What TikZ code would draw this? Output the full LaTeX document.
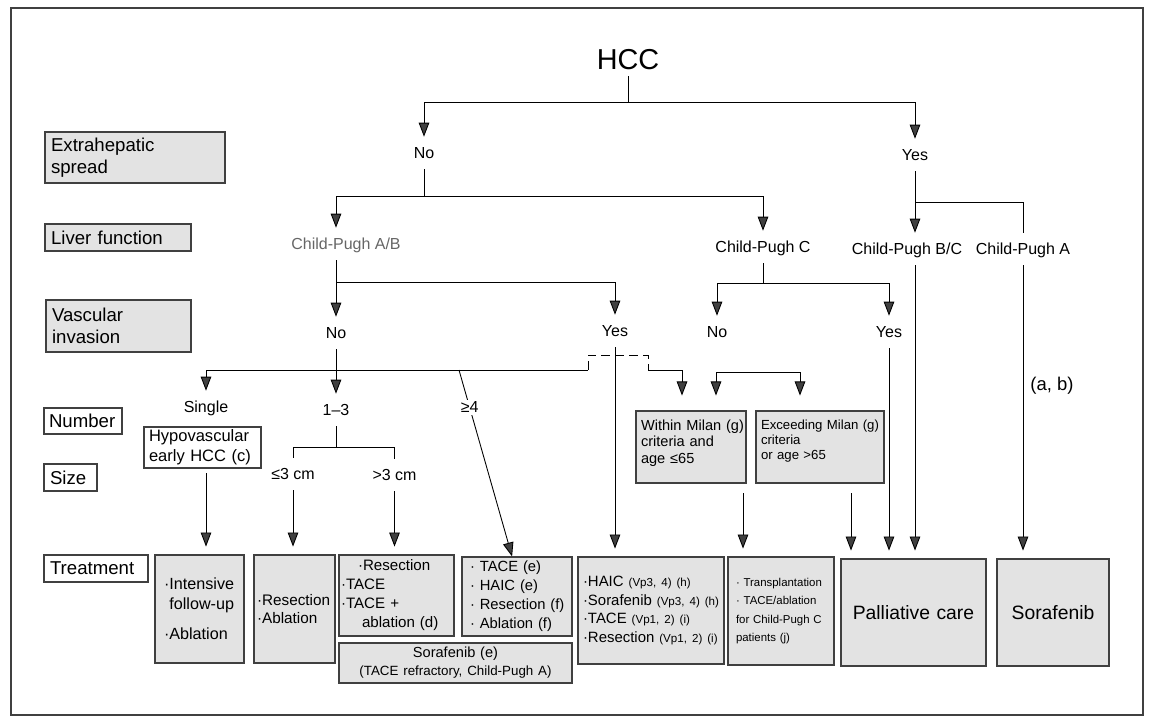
\documentclass[tikz,border=0pt]{standalone}
\usepackage{fontspec}
\setmainfont{Liberation Sans}
\usetikzlibrary{arrows.meta}
\newcommand{\fsz}[2]{\fontsize{#1}{#2}\selectfont}
\newcommand{\bul}{·}
\newcommand{\smref}{\fsz{6.6}{8}}
\hyphenpenalty=10000
\exhyphenpenalty=10000
\hbadness=10000
\hfuzz=20pt

\begin{document}
\begin{tikzpicture}[x=0.02cm,y=-0.02cm,line width=0.5pt,
  tnode/.style={font=\fsz{9.1}{11}, inner xsep=2pt, inner ysep=4.4pt, text height=1.5ex, text depth=.25ex},
  lbox/.style={draw=black!75, line width=0.6pt, fill=black!11, align=left, inner xsep=1.2mm, inner ysep=0pt, font=\fsz{10.6}{12.5}},
  wbox/.style={lbox, fill=white},
  gbox/.style={draw=black!75, line width=0.6pt, fill=black!11, align=left, inner xsep=1.2mm, inner ysep=0pt},
  arr/.style={-{Triangle[length=8pt,width=6pt,fill=black!75]}},
  barr/.style={arr, shorten >=4.5pt},
  marr/.style={arr, shorten >=8.5pt}]
    \useasboundingbox (0,0) rectangle (1150,717);
    \draw[black!75, line width=0.7pt] (11,8) rectangle (1143,715);

    % row labels
    \node[lbox, text width=3.36cm, minimum height=1.02cm] (ext) at (135,157.5) {Extrahepatic\\spread};
    \node[lbox, text width=2.68cm, minimum height=0.54cm] (liver) at (118,237.5) {Liver~function};
    \node[lbox, text width=2.66cm, minimum height=1.04cm] (vasc) at (118.5,326) {Vascular\\invasion};
    \node[wbox, text width=1.36cm, inner xsep=1mm, minimum height=0.52cm] (numb) at (83,421) {Number};
    \node[wbox, text width=0.82cm, minimum height=0.54cm] (size) at (70.5,477.5) {Size};
    \node[wbox, text width=1.84cm, minimum height=0.54cm] (treat) at (96,568.5) {Treatment};

    % decisions
    \node[font=\fsz{16.4}{18}] (hcc) at (628,60) {HCC};
    \node[tnode] (no1) at (424,153) {No};
    \node[tnode] (yes1) at (915,155) {Yes};
    \node[tnode, text=black!60] (cpab) at (346,244) {Child-Pugh A/B};
    \node[tnode] (cpc) at (763,247) {Child-Pugh C};
    \node[tnode] (cpbc) at (907,249) {Child-Pugh B/C};
    \node[tnode] (cpa) at (1023,249) {Child-Pugh A};
    \node[tnode] (nv1) at (336,333) {No};
    \node[tnode] (yv1) at (615,331) {Yes};
    \node[tnode] (nv2) at (717,332) {No};
    \node[tnode] (yv2) at (889,332) {Yes};
    \node[tnode] (single) at (206,407) {Single};
    \node[tnode] (n13) at (336,410) {1–3};
    \node[tnode] (le3) at (293,474) {≤3 cm};
    \node[tnode] (gt3) at (394.5,475) {>3 cm};
    \node[tnode, font=\fsz{10.5}{12}] (ab) at (1052,385) {(a, b)};

    % criteria boxes
    \node[wbox, font=\fsz{9.4}{11.3}, inner xsep=1mm, text width=2.14cm, minimum height=0.82cm] (hypo) at (202.5,447.5) {Hypovascular\\early~HCC~(c)};
    \node[gbox, font=\fsz{8.3}{9.4}, inner xsep=1mm, text width=2.0cm, minimum height=1.44cm] (win) at (691,447) {Within~Milan~(g)\\criteria~and\\age~≤65\\[-3pt]\mbox{}};
    \node[gbox, font=\fsz{7.5}{8.5}, inner xsep=1mm, text width=2.36cm, minimum height=1.44cm] (exc) at (820,447) {Exceeding~Milan~(g)\\criteria\\or~age~>65\\[-0.5pt]\mbox{}};

    % treatments
    \node[gbox, font=\fsz{9.2}{11.3}, inner xsep=1.8mm, text width=1.42cm, minimum height=2.16cm] (t1) at (199.5,609) {\bul Intensive\\\hphantom{\bul}follow-up\\[5.7pt]\bul Ablation};
    \node[gbox, font=\fsz{8.7}{10.2}, inner xsep=0.6mm, text width=1.50cm, minimum height=2.16cm] (t2) at (294.5,609) {\bul Resection\\\bul Ablation};
    \node[gbox, font=\fsz{8.6}{10.8}, inner xsep=0.4mm, text width=2.22cm, minimum height=1.62cm] (t3) at (396.5,595.5) {\hspace*{0.34cm}\bul Resection\\\bul TACE\\\bul TACE~+\\\hspace*{0.42cm}ablation~(d)};
    \node[gbox, font=\fsz{8.4}{10.8}, inner xsep=1.6mm, text width=1.88cm, minimum height=1.58cm] (t4) at (517,596.5) {\bul~TACE~(e)\\\bul~HAIC~(e)\\\bul~Resection~(f)\\\bul~Ablation~(f)};
    \node[gbox, align=center, font=\fsz{8.3}{10.2}, text width=4.42cm, minimum height=0.80cm] (sore) at (455.5,663) {Sorafenib (e)\\{\fsz{7.6}{9}(TACE refractory, Child-Pugh A)}};
    \node[gbox, font=\fsz{8.5}{10.6}, inner xsep=1mm, text width=2.72cm, minimum height=2.14cm] (t5) at (651,610.5) {\bul HAIC~{\smref(Vp3,~4)~(h)}\\\bul Sorafenib~{\smref(Vp3,~4)~(h)}\\\bul TACE~{\smref(Vp1,~2)~(i)}\\\bul Resection~{\smref(Vp1,~2)~(i)}};
    \node[gbox, font=\fsz{6.5}{10.6}, inner xsep=1.6mm, text width=1.80cm, minimum height=2.16cm] (t6) at (781,611) {\bul~Transplantation\\\bul~TACE/ablation\\for~Child-Pugh~C\\patients~(j)};
    \node[gbox, align=center, font=\fsz{11}{13}, text width=2.66cm, minimum height=2.14cm] (t7) at (913.5,612.5) {Palliative care};
    \node[gbox, align=center, font=\fsz{11}{13}, text width=2.0cm, minimum height=2.14cm] (t8) at (1053,612.5) {Sorafenib};

    % extrahepatic spread
    \coordinate (j1) at (628,102);
    \draw (hcc) -- (j1);
    \draw[arr] (j1) -| (no1);
    \draw[arr] (j1) -| (yes1);

    % liver function
    \coordinate (j2) at (424,196);
    \coordinate (jab) at (336,282);
    \coordinate (jc) at (763,283);
    \coordinate (jy) at (915,202);
    \draw (no1) -- (j2);
    \draw[arr] (j2) -| (cpc);
    \draw[arr] (j2) -| (jab |- cpab.north);
    \draw[arr] (yes1) -- (yes1 |- cpbc.north);
    \draw (jy) -| (cpa);

    % vascular invasion
    \draw[arr] (jab |- cpab.south) -- (nv1);
    \draw[arr] (jab) -| (yv1);
    \draw (cpc) -- (jc);
    \draw[arr] (jc) -| (nv2);
    \draw[arr] (jc) -| (yv2);

    % number
    \coordinate (jn) at (336,370);
    \coordinate (g4) at (459,370);
    \coordinate (d1) at (588,370);
    \coordinate (d2) at (648,370);
    \coordinate (m0) at (682,370);
    \draw[arr] (nv1) -- (n13);
    \draw[arr] (jn) -| (single);
    \draw (jn) -- (d1);
    \draw[dash pattern=on 5pt off 3pt] (d1) -- ++(0,-15) -| (d2);
    \draw[marr] (d2) -| (m0 |- win.north);
    \draw[arr] (g4) -- node[pos=0.2, fill=white, inner sep=1pt, font=\fsz{9.1}{11}] (ge4) {≥4} ([xshift=-2.8pt]t4.north);

    \coordinate (m1) at (716,372);
    \coordinate (m2) at (800,372);
    \draw[marr] (m1) -- (m1 |- win.north);
    \draw[marr] (m1) -| (m2 |- exc.north);

    % size
    \coordinate (j13) at (336,447);
    \draw (n13) -- (j13);
    \draw (j13) -| (le3);
    \draw (j13) -| (gt3);

    % treatment
    \coordinate (w1) at (743,493);
    \coordinate (e1) at (851,493);
    \draw[barr, shorten <=2.8pt] (single |- hypo.south) -- (single |- t1.north);
    \draw[barr] (le3) -- (le3 |- t2.north);
    \draw[barr] (gt3) -- (gt3 |- t3.north);
    \draw[barr] (yv1) -- (yv1 |- t5.north);
    \draw[barr] (w1) -- (w1 |- t6.north);
    \draw[barr] (e1) -- (e1 |- t7.north);
    \draw[barr] (yv2) -- (yv2 |- t7.north);
    \draw[barr] (yes1 |- cpbc.south) -- (yes1 |- t7.north);
    \draw[barr] (cpa) -- (cpa |- t8.north);
\end{tikzpicture}
\end{document}
